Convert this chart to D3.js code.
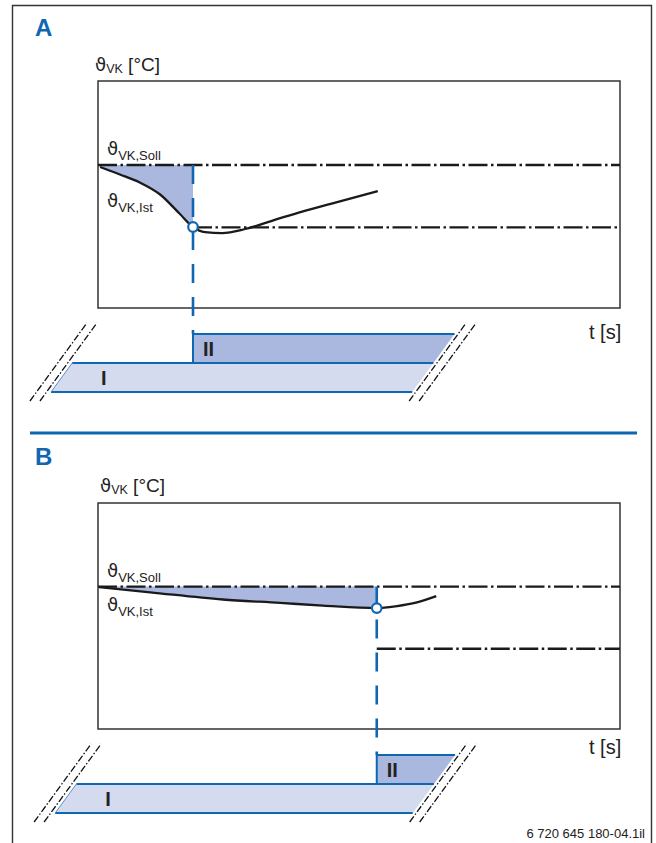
<!DOCTYPE html>
<html>
<head>
<meta charset="utf-8">
<script src="https://cdn.jsdelivr.net/npm/d3@7"></script>
<style>
  body { margin: 0; background: #fff; }
  svg { display: block; }
  text { font-family: "Liberation Sans", Arial, sans-serif; fill: #222; }
</style>
</head>
<body>
<div id="visual"></div>
<script>
// values (time and temperature in arbitrary units)
const timeA = [0.4, 4.2, 8.0, 11.9, 15.7, 18.2, 20.5, 23.8, 28.2, 34.9, 44.4, 53.6];
const tempA = [62.1, 58.8, 55.3, 50.0, 41.4, 35.7, 33.4, 33.0, 34.8, 39.6, 45.8, 51.5];
const timeB = [0.2, 10.0, 23.9, 34.9, 43.1, 53.4, 57.3, 60.7, 64.8];
const tempB = [62.8, 60.5, 57.3, 55.8, 54.6, 53.5, 54.4, 55.8, 58.8];
const setpoint = 63;
const lowLimit = 35.5;
const switchTimes = [18.2, 53.4];      // start of phase II, panel A and B
const breakStart = [-9.0, -8.2];       // left break of phase bars
const breakEnd = [60.2, 60.3];         // right break of phase bars
const phaseLabels = ["I", "II"];
const panelNames = ["A", "B"];
const footer = "6 720 645 180-04.1il";

const W = 656, H = 843;
const blue = "#0f67b1";
const slant = 0.73; // horizontal shift per pixel of height for the break edges

const svg = d3.select("#visual").append("svg")
    .attr("width", W)
    .attr("height", H);

// outer frame (open at the bottom)
svg.append("path")
    .attr("d", "M12.5," + H + "V5.5H651.5V" + H)
    .attr("fill", "none")
    .attr("stroke", "#333")
    .attr("stroke-width", 1.4);

// divider between A and B
svg.append("line")
    .attr("x1", 30).attr("x2", 637)
    .attr("y1", 433).attr("y2", 433)
    .attr("stroke", blue)
    .attr("stroke-width", 3);

const panels = [
    { time: timeA, temp: tempA, top: 81, bottom: 308, letterY: 36, axisX: 95, axisY: 71,
      sollY: [155, 160], istY: [207, 212], tY: 339, barBottom: 392 },
    { time: timeB, temp: tempB, top: 503, bottom: 729, letterY: 465, axisX: 100, axisY: 492,
      sollY: [577, 582], istY: [611, 616], tY: 754, barBottom: 813 }
];

// label with a theta and a subscript
function thetaLabel(g, x, y, sub, tail, subDy, thetaSize, subSize, tailSize) {
    const t = g.append("text").attr("x", x).attr("y", y);
    t.append("tspan").style("font-size", thetaSize + "px")
        .style("font-family", "'DejaVu Sans', sans-serif").text("\u03D1");
    t.append("tspan").attr("dy", subDy).style("font-size", subSize + "px").text(sub);
    if (tail) t.append("tspan").attr("dy", -subDy).style("font-size", tailSize + "px").text(tail);
}

panels.forEach((p, i) => {
    const g = svg.append("g");
    const data = p.time.map((t, k) => ({ t: t, v: p.temp[k] }));
    const sw = switchTimes[i];

    const x = d3.scaleLinear().domain([0, 100]).range([98, 620]);
    const y = d3.scaleLinear().domain([0, 100]).range([p.bottom, p.top]);

    // panel letter
    g.append("text")
        .attr("x", 35).attr("y", p.letterY)
        .style("font-size", "24px").style("font-weight", "bold")
        .style("fill", blue)
        .text(panelNames[i]);

    // axis labels
    thetaLabel(g, p.axisX, p.axisY, "VK", " [°C]", 2, 18, 12.5, 19);
    g.append("text")
        .attr("x", 589).attr("y", p.tY)
        .style("font-size", "20px")
        .text("t [s]");

    // plot box
    g.append("rect")
        .attr("x", x(0)).attr("y", p.top)
        .attr("width", x(100) - x(0)).attr("height", p.bottom - p.top)
        .attr("fill", "none")
        .attr("stroke", "#333")
        .attr("stroke-width", 1.5);

    // deficit area between setpoint and actual temperature, up to the switch
    const until = data.filter(d => d.t <= sw + 1e-6);
    g.append("path")
        .datum([{ t: 0, v: setpoint }].concat(until))
        .attr("fill", "#aab8e0")
        .attr("d", d3.area()
            .x(d => x(d.t))
            .y0(y(setpoint))
            .y1(d => y(d.v))
            .curve(d3.curveMonotoneX));

    // setpoint and lower limit
    g.append("line")
        .attr("x1", x(0)).attr("x2", x(100))
        .attr("y1", y(setpoint)).attr("y2", y(setpoint))
        .attr("stroke", "#1a1a1a").attr("stroke-width", 2.4)
        .attr("stroke-dasharray", "19,3.5,2.5,3.5");
    g.append("line")
        .attr("x1", x(sw)).attr("x2", x(100))
        .attr("y1", y(lowLimit)).attr("y2", y(lowLimit))
        .attr("stroke", "#1a1a1a").attr("stroke-width", 2.4)
        .attr("stroke-dasharray", "19,3.5,2.5,3.5");

    // actual temperature
    g.append("path")
        .datum(data)
        .attr("fill", "none")
        .attr("stroke", "#1a1a1a")
        .attr("stroke-width", 2.3)
        .attr("d", d3.line().x(d => x(d.t)).y(d => y(d.v)).curve(d3.curveMonotoneX));

    // curve labels
    thetaLabel(g, 107, p.sollY[0], "VK,Soll", null, p.sollY[1] - p.sollY[0], 18, 13);
    thetaLabel(g, 107, p.istY[0], "VK,Ist", null, p.istY[1] - p.istY[0], 18, 13);

    // phase bars I and II
    const rowH = 29;
    const yb = p.barBottom;
    const x0 = x(breakStart[i]), x1 = x(breakEnd[i]), xs = x(sw);
    const bars = [
        { label: phaseLabels[0], fill: "#d4dbee",
          pts: [[x0, yb], [x1, yb], [x1 + rowH * slant, yb - rowH], [x0 + rowH * slant, yb - rowH]] },
        { label: phaseLabels[1], fill: "#aab8e0",
          pts: [[xs, yb - rowH], [x1 + rowH * slant, yb - rowH], [x1 + 2 * rowH * slant, yb - 2 * rowH], [xs, yb - 2 * rowH]] }
    ];
    bars.forEach(b => {
        g.append("polygon")
            .attr("points", b.pts.map(q => q.join(",")).join(" "))
            .attr("fill", b.fill);
    });
    // blue edges
    const edge = (a, c, w, col) => g.append("line")
        .attr("x1", a[0]).attr("y1", a[1]).attr("x2", c[0]).attr("y2", c[1])
        .attr("stroke", col || blue).attr("stroke-width", w);
    edge(bars[0].pts[0], bars[0].pts[1], 2);
    edge(bars[0].pts[3], bars[0].pts[2], 2);
    edge(bars[0].pts[0], bars[0].pts[3], 1, "#5a8fd0");
    edge(bars[1].pts[3], bars[1].pts[2], 2);
    edge(bars[1].pts[0], bars[1].pts[3], 2);

    // phase labels
    g.append("text").attr("x", x0 + 50).attr("y", yb - 7)
        .style("font-size", "20px").style("font-weight", "bold").text(bars[0].label);
    g.append("text").attr("x", xs + 10).attr("y", yb - rowH - 7)
        .style("font-size", "20px").style("font-weight", "bold").text(bars[1].label);

    // break marks
    [[x0, -14.5], [x0, -4.5], [x1, 3.5], [x1, 13.5]].forEach(([bx, off]) => {
        g.append("line")
            .attr("x1", bx + off - 9 * slant).attr("y1", yb + 9)
            .attr("x2", bx + off + (2 * rowH + 11) * slant).attr("y2", yb - 2 * rowH - 11)
            .attr("stroke", "#111").attr("stroke-width", 1.3)
            .attr("stroke-dasharray", "7,2,1.5,2");
    });

    // switch marker: dashed blue line and circle
    const vAtSwitch = data.find(d => Math.abs(d.t - sw) < 1e-6).v;
    g.append("line")
        .attr("x1", xs).attr("x2", xs)
        .attr("y1", y(setpoint)).attr("y2", yb - 2 * rowH)
        .attr("stroke", blue).attr("stroke-width", 2.6)
        .attr("stroke-dasharray", "19,14");
    g.append("circle")
        .attr("cx", xs).attr("cy", y(vAtSwitch)).attr("r", 4.8)
        .attr("fill", "#fff")
        .attr("stroke", blue).attr("stroke-width", 2.2);
});

svg.append("text")
    .attr("x", 645).attr("y", 838)
    .attr("text-anchor", "end")
    .style("font-size", "13px")
    .text(footer);
</script>
</body>
</html>
